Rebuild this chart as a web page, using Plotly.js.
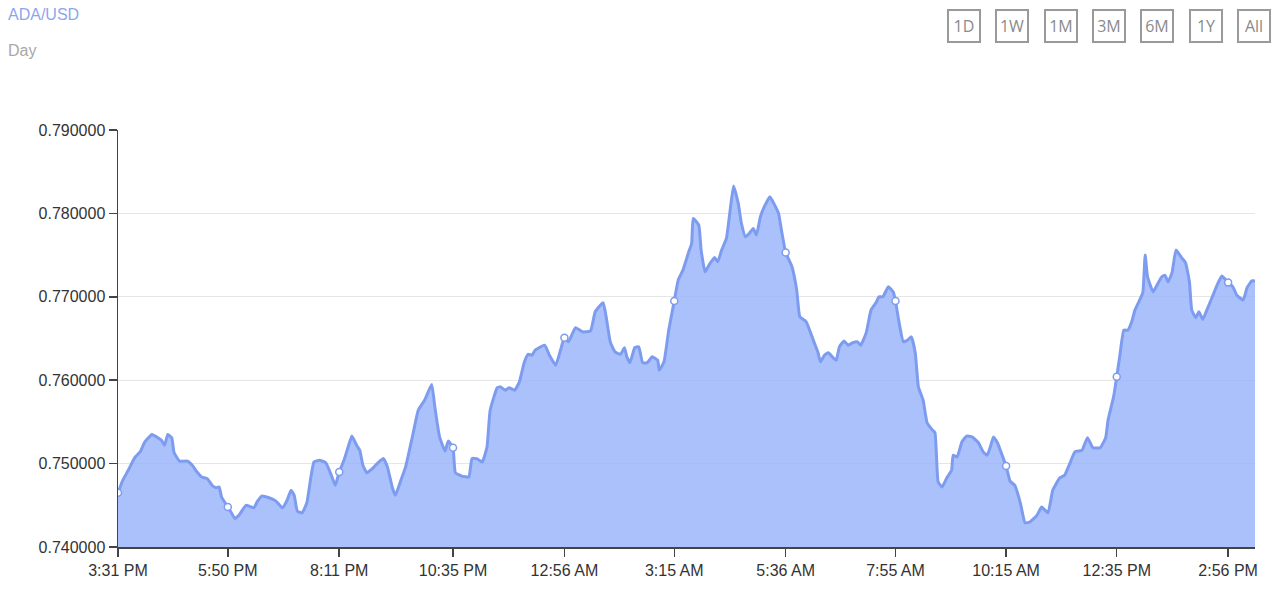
<!DOCTYPE html>
<html>
<head>
<meta charset="utf-8">
<script src="https://cdn.plot.ly/plotly-3.0.1.min.js"></script>
<style>
  html, body { margin: 0; padding: 0; background: #fff; }
  #chart { width: 1280px; height: 596px; }
</style>
</head>
<body>
<div id="chart"></div>
<script>
// ADA/USD, one day of prices. x is minutes after 3:31 PM.
const minutes = [
  0, 6, 13, 21, 28, 34, 43, 49, 55, 59, 63, 68, 71, 78, 88, 94, 100, 106, 113, 119,
  124, 128, 131, 139, 143, 148, 153, 162, 172, 176, 182, 191, 200, 208, 214, 219, 223, 227, 233, 239,
  244, 248, 255, 263, 270, 275, 280, 286, 290, 296, 302, 306, 310, 315, 323, 329, 336, 341, 347, 351,
  358, 364, 373, 380, 388, 397, 401, 407, 414, 418, 424, 427, 435, 444, 448, 454, 461, 467, 471, 480,
  484, 490, 495, 502, 508, 514, 519, 524, 528, 540, 546, 554, 560, 565, 570, 579, 588, 598, 604, 614,
  619, 623, 629, 636, 641, 644, 648, 654, 659, 664, 670, 676, 683, 685, 691, 697, 704, 709, 715, 722,
  726, 728, 735, 738, 743, 748, 755, 759, 764, 770, 774, 779, 785, 789, 794, 799, 804, 808, 813, 818,
  825, 830, 836, 840, 845, 853, 859, 863, 871, 880, 886, 889, 894, 899, 905, 909, 913, 919, 924, 930,
  936, 940, 947, 953, 960, 963, 968, 975, 981, 984, 988, 994, 999, 1004, 1009, 1013, 1019, 1024, 1031, 1034,
  1038, 1043, 1049, 1055, 1057, 1062, 1068, 1074, 1081, 1089, 1095, 1100, 1104, 1108, 1113, 1119, 1124, 1129, 1135, 1142,
  1148, 1154, 1163, 1169, 1177, 1183, 1192, 1198, 1205, 1211, 1220, 1227, 1234, 1243, 1250, 1253, 1260, 1264, 1268, 1273,
  1278, 1283, 1287, 1292, 1297, 1300, 1303, 1310, 1315, 1321, 1325, 1329, 1334, 1339, 1346, 1351, 1356, 1359, 1364, 1368,
  1373, 1378, 1385, 1391, 1397, 1405, 1411, 1416, 1424, 1429, 1435, 1439
];
const price = [
  0.7465, 0.7480, 0.7492, 0.7507, 0.7514, 0.7526, 0.7535, 0.7532, 0.7528, 0.7522, 0.7535, 0.7531, 0.7513, 0.7503, 0.7503, 0.7498, 0.7490, 0.7484, 0.7482, 0.7474,
  0.7471, 0.7472, 0.7460, 0.7448, 0.7442, 0.7434, 0.7438, 0.7450, 0.7447, 0.7454, 0.7461, 0.7459, 0.7455, 0.7447, 0.7456, 0.7468, 0.7462, 0.7443, 0.7441, 0.7453,
  0.7483, 0.7502, 0.7504, 0.7501, 0.7486, 0.7474, 0.7490, 0.7504, 0.7516, 0.7533, 0.7522, 0.7516, 0.7498, 0.7489, 0.7495, 0.7501, 0.7506, 0.7496, 0.7472, 0.7462,
  0.7480, 0.7496, 0.7534, 0.7564, 0.7576, 0.7595, 0.7568, 0.7532, 0.7515, 0.7527, 0.7519, 0.7489, 0.7485, 0.7484, 0.7506, 0.7506, 0.7502, 0.7520, 0.7564, 0.7591,
  0.7592, 0.7588, 0.7591, 0.7588, 0.7598, 0.7621, 0.7631, 0.7630, 0.7636, 0.7642, 0.7630, 0.7618, 0.7636, 0.7651, 0.7646, 0.7663, 0.7658, 0.7659, 0.7682, 0.7693,
  0.7669, 0.7646, 0.7634, 0.7631, 0.7639, 0.7628, 0.7621, 0.7639, 0.7640, 0.7621, 0.7621, 0.7628, 0.7624, 0.7612, 0.7622, 0.7660, 0.7695, 0.7720, 0.7732, 0.7753,
  0.7764, 0.7794, 0.7786, 0.7756, 0.7730, 0.7738, 0.7747, 0.7742, 0.7756, 0.7770, 0.7798, 0.7833, 0.7812, 0.7788, 0.7772, 0.7776, 0.7782, 0.7774, 0.7796, 0.7808,
  0.7820, 0.7812, 0.7800, 0.7778, 0.7753, 0.7736, 0.7708, 0.7676, 0.7670, 0.7648, 0.7633, 0.7622, 0.7630, 0.7633, 0.7627, 0.7624, 0.7640, 0.7647, 0.7642, 0.7645,
  0.7646, 0.7642, 0.7657, 0.7684, 0.7694, 0.7700, 0.7700, 0.7712, 0.7706, 0.7695, 0.7672, 0.7646, 0.7648, 0.7652, 0.7633, 0.7592, 0.7576, 0.7549, 0.7540, 0.7537,
  0.7478, 0.7472, 0.7483, 0.7492, 0.7510, 0.7508, 0.7526, 0.7533, 0.7532, 0.7525, 0.7514, 0.7510, 0.7520, 0.7532, 0.7525, 0.7510, 0.7497, 0.7479, 0.7474, 0.7453,
  0.7429, 0.7430, 0.7438, 0.7448, 0.7441, 0.7468, 0.7483, 0.7486, 0.7501, 0.7514, 0.7516, 0.7531, 0.7519, 0.7519, 0.7531, 0.7552, 0.7580, 0.7604, 0.7630, 0.7660,
  0.7660, 0.7670, 0.7684, 0.7694, 0.7705, 0.7750, 0.7724, 0.7706, 0.7714, 0.7724, 0.7726, 0.7718, 0.7729, 0.7756, 0.7747, 0.7741, 0.7718, 0.7684, 0.7675, 0.7682,
  0.7673, 0.7684, 0.7700, 0.7714, 0.7725, 0.7717, 0.7712, 0.7702, 0.7696, 0.7711, 0.7719, 0.7719
];
const tickMinutes = [0, 139, 280, 424, 565, 704, 845, 984, 1124, 1264, 1405];
const tickLabels = ["3:31 PM", "5:50 PM", "8:11 PM", "10:35 PM", "12:56 AM", "3:15 AM", "5:36 AM", "7:55 AM", "10:15 AM", "12:35 PM", "2:56 PM"];
const yTicks = [0.74, 0.75, 0.76, 0.77, 0.78, 0.79];
const ranges = ["1D", "1W", "1M", "3M", "6M", "1Y", "All"];

const LINE = "#7d9cf0";
const FILL = "rgba(150,178,250,0.8)";
const AXIS = "#444";
const FONT = "'Liberation Sans', Arial, sans-serif";

// page geometry, px -> paper helpers for the header items
const W = 1280, H = 596;
const M = { l: 118, r: 25, t: 130, b: 49 };
const plotW = W - M.l - M.r, plotH = H - M.t - M.b;
const px = (x) => (x - M.l) / plotW;
const py = (y) => (H - M.b - y) / plotH;

// markers sit on the curve at every labelled time
const markerY = tickMinutes.map((m) => price[minutes.indexOf(m)]);

const traces = [
  {
    x: minutes, y: price, type: "scatter", mode: "lines",
    line: { color: LINE, width: 3, shape: "spline", smoothing: 0.4 },
    fill: "tozeroy", fillcolor: FILL, hoverinfo: "skip",
  },
  {
    x: tickMinutes, y: markerY, type: "scatter", mode: "markers",
    marker: { color: "#fff", size: 7, line: { color: LINE, width: 1.5 } },
    hoverinfo: "skip",
  },
];

const annotations = [
  { xref: "paper", yref: "paper", x: px(6), y: py(15), xanchor: "left", yanchor: "middle",
    text: "ADA/USD", showarrow: false, font: { family: FONT, size: 16, color: "#8ca6ee" } },
  { xref: "paper", yref: "paper", x: px(6), y: py(50), xanchor: "left", yanchor: "middle",
    text: "Day", showarrow: false, font: { family: FONT, size: 16, color: "#a8a8a8" } },
];
ranges.forEach((r, i) => {
  annotations.push({
    xref: "paper", yref: "paper", x: px(964 + i * 48.3), y: py(26),
    xanchor: "center", yanchor: "middle", text: r, showarrow: false,
    width: 30, height: 30, borderwidth: 2, bordercolor: "#9a9a9a", borderpad: 0,
    font: { family: "'Open Sans', sans-serif", size: 16, color: "#8a8a8a" },
  });
});

const layout = {
  width: W, height: H,
  margin: M,
  paper_bgcolor: "#fff", plot_bgcolor: "#fff",
  showlegend: false,
  font: { family: FONT, size: 16, color: "#333" },
  xaxis: {
    range: [0, 1439], tickmode: "array", tickvals: tickMinutes, ticktext: tickLabels,
    showgrid: false, zeroline: false, showline: true, linecolor: AXIS, linewidth: 1.5,
    ticks: "outside", ticklen: 8, tickcolor: AXIS, tickwidth: 1.5,
    tickfont: { family: FONT, size: 16, color: "#333" },
  },
  yaxis: {
    range: [0.74, 0.79], tickmode: "array", tickvals: yTicks, tickformat: ".6f",
    showgrid: true, gridcolor: "#e6e6e6", gridwidth: 1, zeroline: false,
    showline: true, linecolor: AXIS, linewidth: 1.5,
    ticks: "outside", ticklen: 8, tickcolor: AXIS, tickwidth: 1.5,
    tickfont: { family: FONT, size: 16, color: "#333" },
  },
  annotations,
};

Plotly.newPlot("chart", traces, layout, { displayModeBar: false, staticPlot: true });
</script>
</body>
</html>
